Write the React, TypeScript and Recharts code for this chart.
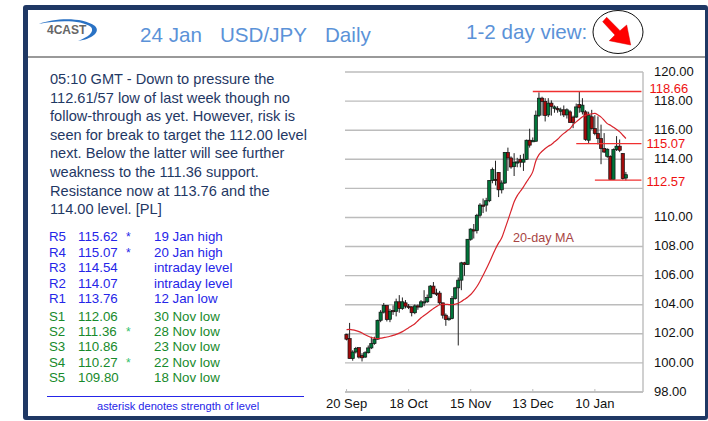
import React from "react";
import { ComposedChart, Bar, Line, XAxis, YAxis, CartesianGrid, ReferenceLine } from "recharts";

const dates = [
  "20 Sep","21 Sep","22 Sep","23 Sep","26 Sep","27 Sep","28 Sep","29 Sep","30 Sep","3 Oct",
  "4 Oct","5 Oct","6 Oct","7 Oct","10 Oct","11 Oct","12 Oct","13 Oct","14 Oct","17 Oct",
  "18 Oct","19 Oct","20 Oct","21 Oct","24 Oct","25 Oct","26 Oct","27 Oct","28 Oct","31 Oct",
  "1 Nov","2 Nov","3 Nov","4 Nov","7 Nov","8 Nov","9 Nov","10 Nov","11 Nov","14 Nov",
  "15 Nov","16 Nov","17 Nov","18 Nov","21 Nov","22 Nov","23 Nov","24 Nov","25 Nov","28 Nov",
  "29 Nov","30 Nov","1 Dec","2 Dec","5 Dec","6 Dec","7 Dec","8 Dec","9 Dec","12 Dec",
  "13 Dec","14 Dec","15 Dec","16 Dec","19 Dec","20 Dec","21 Dec","22 Dec","23 Dec","26 Dec",
  "27 Dec","28 Dec","29 Dec","30 Dec","2 Jan","3 Jan","4 Jan","5 Jan","6 Jan","9 Jan",
  "10 Jan","11 Jan","12 Jan","13 Jan","16 Jan","17 Jan","18 Jan","19 Jan","20 Jan","23 Jan",
  "24 Jan","25 Jan","26 Jan","27 Jan","30 Jan","31 Jan",
];
const opens = [
  101.95,101.67,100.3,100.75,101.05,100.5,100.4,100.7,101.03,101.33,
  101.63,102.93,103.49,103.95,103.0,103.6,103.55,104.2,103.75,104.13,
  103.9,103.85,103.45,103.92,103.85,104.2,104.2,104.5,105.28,104.8,
  104.8,104.13,103.28,103.0,103.05,104.43,105.16,105.69,106.88,106.77,
  108.5,109.15,109.1,110.15,110.85,110.85,111.15,112.55,112.62,113.1,
  111.9,112.37,114.46,114.09,113.5,113.75,114.0,113.8,114.0,115.31,
  115.24,115.24,117.01,118.2,117.98,117.05,117.86,117.5,117.5,117.3,
  117.4,117.05,117.26,116.9,116.9,117.77,117.26,117.26,115.31,116.92,
  116.11,115.77,115.43,114.74,114.2,114.2,112.6,114.67,114.9,114.39,112.71,
];
const highs = [
  102.0,102.75,100.87,101.1,101.05,100.67,100.8,101.2,101.8,101.8,
  102.97,103.63,104.12,103.95,103.72,103.95,104.42,104.66,104.5,104.32,
  104.05,103.9,104.02,104.02,104.32,105.0,104.7,105.35,105.56,105.1,
  104.95,104.13,103.4,103.2,104.6,105.23,105.87,106.95,106.95,108.5,
  109.25,109.55,110.25,110.98,111.3,111.35,112.55,113.43,113.9,113.12,
  112.55,114.5,114.8,114.2,114.42,114.1,114.3,114.38,115.35,116.1,
  115.5,117.35,118.6,118.3,118.2,118.2,118.05,117.7,117.65,117.55,
  117.7,117.5,117.37,117.0,117.83,118.64,118.2,117.37,117.27,117.4,
  117.03,116.95,116.38,115.8,114.75,114.27,114.74,115.59,115.36,114.43,113.13,
];
const lows = [
  101.55,100.3,100.15,100.65,100.3,100.1,100.35,100.65,100.95,101.25,
  101.6,102.8,103.4,102.85,102.8,103.3,103.2,103.45,103.65,103.75,
  103.7,103.2,103.35,103.65,103.8,103.9,104.13,104.45,104.72,104.6,
  103.98,103.05,102.55,102.9,103.0,104.35,101.2,105.0,105.99,106.75,
  108.4,108.55,108.9,110.0,110.3,110.4,111.05,112.35,112.2,111.4,
  111.65,112.3,113.2,113.35,112.85,113.45,113.45,113.2,113.95,114.8,
  115.2,115.2,116.9,117.0,116.6,116.9,117.0,117.2,117.2,117.0,
  116.9,116.8,116.5,116.14,116.85,117.2,117.08,115.27,115.08,116.04,
  115.65,115.02,113.66,114.43,114.1,112.6,112.6,114.57,114.49,112.6,112.55,
];
const closes = [
  101.63,100.3,100.75,101.0,100.4,100.35,100.7,101.03,101.33,101.63,
  102.93,103.49,103.95,102.98,103.55,103.55,104.2,103.75,104.2,103.9,
  103.85,103.45,103.92,103.85,104.2,104.2,104.5,105.28,104.77,104.75,
  104.13,103.28,102.98,103.05,104.43,105.16,105.69,106.88,106.77,108.5,
  109.2,109.1,110.15,110.85,110.8,111.15,112.55,113.29,112.55,111.9,
  112.37,114.46,114.09,113.47,113.8,113.82,113.8,114.0,115.31,114.97,
  115.28,117.03,118.2,117.98,117.01,117.86,117.63,117.6,117.4,117.4,
  117.05,117.4,116.53,116.53,117.6,117.54,117.72,115.36,117.03,116.11,
  115.77,115.43,114.74,114.5,114.69,112.6,114.67,114.9,114.62,112.67,112.94,
];
const movingAverage = [
  102.29,102.3,102.27,102.22,102.15,102.05,101.93,101.83,101.75,101.7,
  101.67,101.7,101.74,101.78,101.83,101.89,101.96,102.05,102.15,102.28,
  102.42,102.55,102.69,102.9,103.1,103.26,103.42,103.58,103.74,103.88,
  104.0,104.02,104.03,104.01,104.0,104.04,104.1,104.22,104.37,104.52,
  104.7,104.95,105.25,105.62,106.03,106.45,106.9,107.38,107.85,108.25,
  108.6,109.2,109.82,110.45,111.08,111.5,111.8,112.1,112.45,112.76,
  113.15,113.9,114.32,114.55,114.74,114.9,115.02,115.2,115.38,115.59,
  115.78,115.95,116.11,116.38,116.57,116.75,116.92,117.02,117.08,117.13,
  117.15,117.05,116.9,116.68,116.45,116.34,116.2,116.05,115.88,115.65,115.43,
];
const priceTicks = [98, 100, 102, 104, 106, 108, 110, 112, 114, 116, 118, 120];
const hiddenPriceLabel = 112;
const dateTicks = ["20 Sep", "18 Oct", "15 Nov", "13 Dec", "10 Jan"];
const keyLevels = [
  { label: "118.66", value: 118.66, from: "13 Dec", dx: 3, dy: -3 },
  { label: "115.07", value: 115.07, from: "2 Jan", dx: 0, dy: 0 },
  { label: "112.57", value: 112.57, from: "10 Jan", dx: 0, dy: 1 },
];
const commentary = [
  "05:10 GMT - Down to pressure the",
  "112.61/57 low of last week though no",
  "follow-through as yet. However, risk is",
  "seen for break to target the 112.00 level",
  "next. Below the latter will see further",
  "weakness to the 111.36 support.",
  "Resistance now at 113.76 and the",
  "114.00 level. [PL]",
];
const levelNames = ["R5", "R4", "R3", "R2", "R1", "S1", "S2", "S3", "S4", "S5"];
const levelValues = ["115.62", "115.07", "114.54", "114.07", "113.76", "112.06", "111.36", "110.86", "110.27", "109.80"];
const levelStars = ["*", "*", "", "", "", "", "*", "", "*", ""];
const levelNotes = ["19 Jan high", "20 Jan high", "intraday level", "intraday level", "12 Jan low", "30 Nov low", "28 Nov low", "23 Nov low", "22 Nov low", "18 Nov low"];
const levelRows = [237, 253, 268, 284, 299, 317, 332, 347, 363, 378];

const rows = dates.map((date, i) => ({
  date,
  open: opens[i],
  high: highs[i],
  low: lows[i],
  close: closes[i],
  ma: movingAverage[i] ?? null,
  range: highs[i] != null ? [lows[i], highs[i]] : null,
}));

const FONT = "'Liberation Sans', Arial, sans-serif";
const GRID = "#bcbcbc";
const BLUE = "#2525e8";
const GREEN = "#178a2c";
const TITLE = "#5b92d8";

function Candle(props: any) {
  const { x, y, width, height, payload } = props;
  if (!payload || payload.high == null) return null;
  const h = Math.abs(height);
  const perUnit = h / (payload.high - payload.low);
  const cx = x + width / 2;
  const bodyTop = y + (payload.high - Math.max(payload.open, payload.close)) * perUnit;
  const bodyH = Math.max(Math.abs(payload.open - payload.close) * perUnit, 1.2);
  const up = payload.close >= payload.open;
  return (
    <g>
      <line x1={cx} x2={cx} y1={y} y2={y + h} stroke="#222" strokeWidth={1} />
      <rect x={cx - 1.6} y={bodyTop} width={3.2} height={bodyH} fill={up ? "#00753a" : "#a30b0b"} stroke="#111" strokeWidth={0.7} />
    </g>
  );
}

function DateTick(props: any) {
  const { x, y, payload } = props;
  return (
    <g>
      <line x1={x} x2={x} y1={y - 3} y2={y} stroke={GRID} strokeWidth={1} />
      <text x={x} y={y + 16} textAnchor="middle" fontSize={13} fill="#111" fontFamily={FONT}>{payload.value}</text>
    </g>
  );
}

function abs(left: number, top: number, extra: React.CSSProperties = {}): React.CSSProperties {
  return { position: "absolute", left, top, whiteSpace: "pre", fontFamily: FONT, ...extra };
}

export default function App() {
  return (
    <div style={{ position: "absolute", left: 0, top: 0, width: 708, height: 421, overflow: "hidden", background: "#fff" }}>
      <div style={{ position: "absolute", left: 23, top: 5, width: 685, height: 415, boxSizing: "border-box", borderStyle: "solid", borderColor: "#1f3864", borderWidth: "5px 3px 4px 5px", borderRadius: 3 }} />
      <div style={{ position: "absolute", left: 28, top: 56, width: 677, height: 1.5, background: "#999" }} />

      <svg width={708} height={60} style={{ position: "absolute", left: 0, top: 0 }}>
        <path d="M39 24 C55 18 82 17 95 26 C101 32 92 39 78 41 C88 37 95 32 91 27 C82 20 58 20 39 24 Z" fill="#2a72c4" />
        <ellipse cx={618} cy={32} rx={25} ry={21.5} fill="none" stroke="#111" strokeWidth={1} />
        <polygon points="606.7,17.3 620,30.7 626.7,25 630.7,45 609.3,40.7 615,35 602.7,21.7" fill="#f00" stroke="#d00" strokeWidth={0.5} />
      </svg>
      <div style={abs(47, 23, { fontSize: 12, fontWeight: "bold", color: "#666" })}>4CAST</div>
      <div style={abs(140, 23, { fontSize: 20.6, color: TITLE })}>24 Jan</div>
      <div style={abs(220, 23, { fontSize: 20.6, color: TITLE })}>USD/JPY</div>
      <div style={abs(325, 23, { fontSize: 20.6, color: TITLE })}>Daily</div>
      <div style={abs(466, 20, { fontSize: 20.6, color: TITLE })}>1-2 day view:</div>

      {commentary.map((line, i) => (
        <div key={i} style={abs(50, 70 + i * 18.6, { fontSize: 14.6, lineHeight: "18px", color: "#1f3864" })}>{line}</div>
      ))}

      {levelNames.map((name, i) => {
        const color = i < 5 ? BLUE : GREEN;
        const s = { fontSize: 13.3, lineHeight: "14px", color };
        return (
          <React.Fragment key={name}>
            <div style={abs(49, levelRows[i] - 7, s)}>{name}</div>
            <div style={abs(78, levelRows[i] - 7, s)}>{levelValues[i]}</div>
            <div style={abs(126, levelRows[i] - 7, { ...s, fontSize: 12, color: i < 5 ? BLUE : "#2fc06a" })}>{levelStars[i]}</div>
            <div style={abs(154, levelRows[i] - 7, s)}>{levelNotes[i]}</div>
          </React.Fragment>
        );
      })}
      <div style={{ position: "absolute", left: 47, top: 396, width: 257, height: 1, background: BLUE }} />
      <div style={abs(97, 400, { fontSize: 11.1, lineHeight: "13px", color: BLUE })}>asterisk denotes strength of level</div>

      <div style={{ position: "absolute", left: 0, top: 0 }}>
        <ComposedChart width={708} height={421} data={rows} margin={{ top: 72, right: 0, bottom: 0, left: 345 }} barCategoryGap={0}>
          <CartesianGrid vertical={false} stroke={GRID} strokeWidth={1.4} />
          <XAxis dataKey="date" ticks={dateTicks} interval={0} height={29} axisLine={{ stroke: GRID, strokeWidth: 1.6 }} tickLine={false} tickSize={0} tickMargin={0} tick={<DateTick />} />
          <YAxis yAxisId="left" orientation="left" width={0} domain={[98, 120]} ticks={priceTicks} tick={false} tickLine={false} axisLine={{ stroke: GRID, strokeWidth: 2 }} />
          <YAxis orientation="right" width={65} domain={[98, 120]} ticks={priceTicks} interval={0} axisLine={{ stroke: GRID, strokeWidth: 1.4 }} tickLine={false} tickMargin={2}
            tick={{ fontSize: 13, fill: "#111", fontFamily: FONT, dx: 3, dy: -1 }} tickFormatter={(v: number) => (v === hiddenPriceLabel ? "" : v.toFixed(2))} />
          <Bar dataKey="range" shape={<Candle />} isAnimationActive={false} />
          <Line dataKey="ma" type="monotone" stroke="#d8242c" strokeWidth={1.2} dot={false} isAnimationActive={false} connectNulls={false} />
          {keyLevels.map((k) => (
            <ReferenceLine key={k.label} segment={[{ x: k.from, y: k.value }, { x: "31 Jan", y: k.value }]} stroke="#f03030" strokeWidth={1.3}
              label={{ value: k.label, position: "right", fill: "#ee1111", fontSize: 13, fontFamily: FONT, dx: k.dx, dy: k.dy }} />
          ))}
        </ComposedChart>
      </div>
      <div style={abs(513, 231, { fontSize: 12.6, lineHeight: "14px", color: "#a84444" })}>20-day MA</div>
    </div>
  );
}
